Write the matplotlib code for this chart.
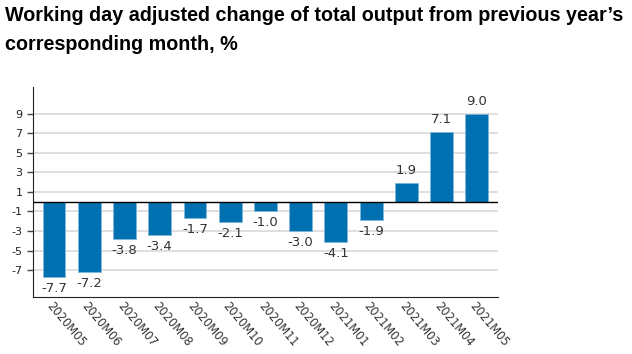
import matplotlib
matplotlib.use("Agg")
from matplotlib import pyplot as plt

months = ["2020M05", "2020M06", "2020M07", "2020M08", "2020M09", "2020M10",
          "2020M11", "2020M12", "2021M01", "2021M02", "2021M03", "2021M04",
          "2021M05"]
change = [-7.7, -7.2, -3.8, -3.4, -1.7, -2.1, -1.0, -3.0, -4.1, -1.9, 1.9, 7.1, 9.0]
yticks = [9, 7, 5, 3, 1, -1, -3, -5, -7]

title = "Working day adjusted change of total output from previous year\u2019s\ncorresponding month, %"

fig = plt.figure(figsize=(6.32, 3.54), dpi=100)
ax = fig.add_axes([0.052, 0.162, 0.736, 0.592])

x = range(len(months))
ax.bar(x, change, width=0.65, color="#0070b0", edgecolor="#7fb8dc", linewidth=0.6, zorder=3)

for xi, v in zip(x, change):
    if v >= 0:
        ax.text(xi, v + 0.6, f"{v:.1f}", ha="center", va="bottom",
                fontsize=9.5, color="#333333")
    else:
        ax.text(xi, v - 0.5, f"{v:.1f}", ha="center", va="top",
                fontsize=9.5, color="#333333")

ax.axhline(0, color="black", linewidth=1, zorder=4)
ax.set_xlim(-0.6, 12.6)
ax.set_ylim(-9.7, 11.7)
ax.set_yticks(yticks)
ax.set_yticklabels([str(t) for t in yticks], fontsize=8, color="#222222")
ax.yaxis.grid(True, color="#d9d9d9", linewidth=1.2, zorder=0)
ax.set_xticks(list(x))
ax.set_xticklabels(months, rotation=-50, ha="left", va="top", fontsize=8.3,
                   rotation_mode="anchor", color="#333333")
ax.tick_params(axis="x", length=0, pad=2)
ax.tick_params(axis="y", length=4, width=1, color="#444444")

for side in ["top", "right"]:
    ax.spines[side].set_visible(False)
for side in ["left", "bottom"]:
    ax.spines[side].set_color("#222222")

fig.text(0.008, 0.982, title, ha="left", va="top", fontsize=14.2,
         fontweight="bold", family="Liberation Sans", linespacing=1.65)

fig.savefig("out.png", dpi=100)
